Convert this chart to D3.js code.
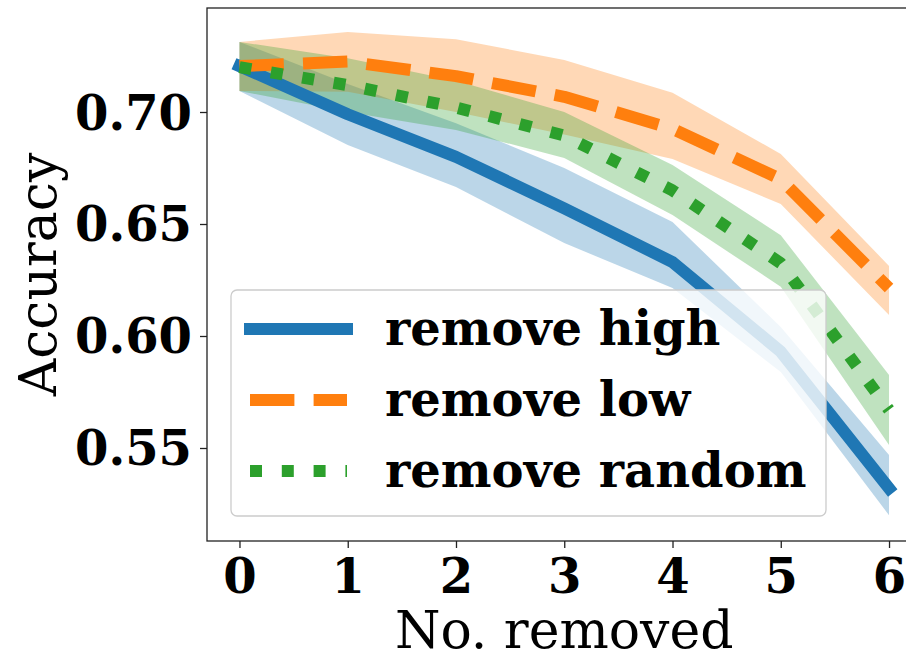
<!DOCTYPE html>
<html>
<head>
<meta charset="utf-8">
<script src="https://cdn.jsdelivr.net/npm/d3@7"></script>
<style>
  html, body { margin: 0; padding: 0; background: #fff; }
  svg { display: block; }
</style>
</head>
<body>
<svg id="chart" width="906" height="652"></svg>
<script>
// ---- data ----
const removed = [0, 1, 2, 3, 4, 5, 6];
const xTicks = [0, 1, 2, 3, 4, 5, 6];
const yTicks = [0.55, 0.60, 0.65, 0.70];
const yTickLabels = ["0.55", "0.60", "0.65", "0.70"];
const seriesNames = ["remove high", "remove low", "remove random"];

const highMean  = [0.7205, 0.6990, 0.6800, 0.6570, 0.6330, 0.5930, 0.5320];
const highLower = [0.7094, 0.6853, 0.6665, 0.6415, 0.6214, 0.5839, 0.5200];
const highUpper = [0.7313, 0.7125, 0.6950, 0.6750, 0.6509, 0.6040, 0.5469];

const lowMean   = [0.7205, 0.7225, 0.7160, 0.7068, 0.6925, 0.6700, 0.6214];
const lowLower  = [0.7094, 0.7090, 0.7000, 0.6900, 0.6790, 0.6589, 0.6094];
const lowUpper  = [0.7313, 0.7357, 0.7325, 0.7232, 0.7086, 0.6813, 0.6313];

const randMean  = [0.7200, 0.7120, 0.7020, 0.6895, 0.6650, 0.6325, 0.5670];
const randLower = [0.7094, 0.7000, 0.6920, 0.6795, 0.6540, 0.6220, 0.5513];
const randUpper = [0.7313, 0.7240, 0.7140, 0.7000, 0.6763, 0.6450, 0.5826];

// ---- layout ----
const svg = d3.select("#chart");
const L = 207, R = 921.5, T = 8, B = 541;
const x = d3.scaleLinear().domain([-0.3, 6.3]).range([L, R]);
const y = d3.scaleLinear().domain([0.50848, 0.74643]).range([B, T]);

const colors = ["#1f77b4", "#ff7f0e", "#2ca02c"];
const LW = 12;
const dashes = [null, `${3.7 * LW},${1.6 * LW}`, `${1 * LW},${1.65 * LW}`];
const caps = ["square", "butt", "butt"];

const series = [
  { mean: highMean, lower: highLower, upper: highUpper },
  { mean: lowMean, lower: lowLower, upper: lowUpper },
  { mean: randMean, lower: randLower, upper: randUpper }
];

const serif = "'DejaVu Serif', serif";

const plot = svg.append("g");

// bands
const area = d3.area()
  .x((d, i) => x(removed[i]))
  .y0(d => y(d[0]))
  .y1(d => y(d[1]));
series.forEach((s, k) => {
  const pts = s.lower.map((lo, i) => [lo, s.upper[i]]);
  plot.append("path")
    .attr("d", area(pts))
    .attr("fill", colors[k])
    .attr("fill-opacity", 0.3);
});

// lines
const line = d3.line().x((d, i) => x(removed[i])).y(d => y(d));
series.forEach((s, k) => {
  const p = plot.append("path")
    .attr("d", line(s.mean))
    .attr("fill", "none")
    .attr("stroke", colors[k])
    .attr("stroke-width", LW)
    .attr("stroke-linecap", caps[k])
    .attr("stroke-linejoin", "round");
  if (dashes[k]) p.attr("stroke-dasharray", dashes[k]);
});

// axes
const xAxis = d3.axisBottom(x).tickValues(xTicks).tickFormat(d3.format("d")).tickSizeOuter(0).tickSize(7).tickPadding(8);
const gx = svg.append("g").attr("transform", `translate(0,${B})`).call(xAxis);
gx.select(".domain").remove();
gx.selectAll(".tick line").attr("stroke", "#222").attr("stroke-width", 1.3);
gx.selectAll(".tick text")
  .attr("font-family", serif).attr("font-weight", "bold").attr("font-size", 48)
  .attr("fill", "#000").attr("dy", null).attr("y", 52);

const yAxis = d3.axisLeft(y).tickValues(yTicks).tickFormat((d, i) => yTickLabels[i]).tickSizeOuter(0).tickSize(7).tickPadding(8);
const gy = svg.append("g").attr("transform", `translate(${L},0)`).call(yAxis);
gy.select(".domain").remove();
gy.selectAll(".tick line").attr("stroke", "#222").attr("stroke-width", 1.3);
gy.selectAll(".tick text")
  .attr("font-family", serif).attr("font-weight", "bold").attr("font-size", 48)
  .attr("fill", "#000").attr("dy", null).attr("x", -15).attr("y", 17);

// spines
svg.append("rect")
  .attr("x", L).attr("y", T).attr("width", R - L).attr("height", B - T)
  .attr("fill", "none").attr("stroke", "#222").attr("stroke-width", 1.3);

// axis labels
svg.append("text")
  .attr("x", (L + R) / 2).attr("y", 648)
  .attr("text-anchor", "middle")
  .attr("font-family", serif).attr("font-size", 52).attr("fill", "#000")
  .text("No. removed");
svg.append("text")
  .attr("transform", `translate(56,${(T + B) / 2}) rotate(-90)`)
  .attr("text-anchor", "middle")
  .attr("font-family", serif).attr("font-size", 52).attr("fill", "#000")
  .text("Accuracy");

// legend
const lg = svg.append("g");
lg.append("rect")
  .attr("x", 231).attr("y", 290).attr("width", 595).attr("height", 226)
  .attr("rx", 6).attr("ry", 6)
  .attr("fill", "#fff").attr("fill-opacity", 0.8)
  .attr("stroke", "#cccccc").attr("stroke-width", 1.3);
const rowY = [329, 400, 471];
seriesNames.forEach((name, k) => {
  const p = lg.append("line")
    .attr("x1", 250).attr("x2", 347).attr("y1", rowY[k]).attr("y2", rowY[k])
    .attr("stroke", colors[k]).attr("stroke-width", LW)
    .attr("stroke-linecap", caps[k]);
  if (dashes[k]) p.attr("stroke-dasharray", dashes[k]);
  lg.append("text")
    .attr("x", 385).attr("y", rowY[k] + 16)
    .attr("font-family", serif).attr("font-weight", "bold").attr("font-size", 48)
    .attr("fill", "#000")
    .text(name);
});
</script>
</body>
</html>
